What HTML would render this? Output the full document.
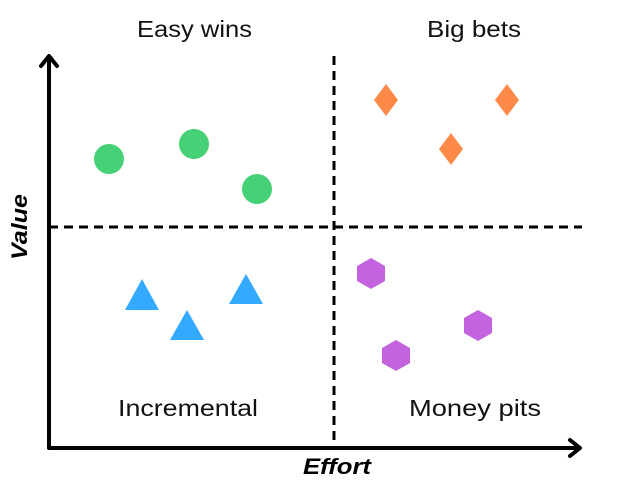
<!DOCTYPE html>
<html><head><style>html,body{margin:0;padding:0;background:#fff;}svg{display:block}</style></head>
<body>
<svg width="631" height="487" viewBox="0 0 631 487" xmlns="http://www.w3.org/2000/svg" font-family="Liberation Sans, sans-serif">
<g stroke="#000" stroke-width="3" stroke-dasharray="9,6" fill="none">
<line x1="334" y1="56" x2="334" y2="446"/>
<line x1="49" y1="227" x2="582" y2="227"/>
</g>
<g stroke="#000" stroke-width="4" fill="none" stroke-linecap="round" stroke-linejoin="round">
<polyline points="49,58 49,448 578,448"/>
<polyline points="41,66 49,56 57,66"/>
<polyline points="570,440 580,448 570,456"/>
</g>
<g fill="#46d176">
<circle cx="109" cy="159" r="15"/><circle cx="194" cy="144" r="15"/><circle cx="257" cy="189" r="15"/>
</g>
<g fill="#33aaff">
<polygon points="142,279 125,310 159,310"/>
<polygon points="187,310 170,340 204,340"/>
<polygon points="246,274 229,304 263,304"/>
</g>
<g fill="#ff8a47">
<polygon points="386,84 398,100 386,116 374,100"/>
<polygon points="507,84 519,100 507,116 495,100"/>
<polygon points="451,133 463,149 451,165 439,149"/>
</g>
<g fill="#c463e0">
<polygon points="371,258 385,266 385,281 371,289 357,281 357,266"/>
<polygon points="478,310 492,318 492,333 478,341 464,333 464,318"/>
<polygon points="396,340 410,348 410,363 396,371 382,363 382,348"/>
</g>
<g font-size="23" fill="#111">
<text x="137" y="37" textLength="115" lengthAdjust="spacingAndGlyphs">Easy wins</text>
<text x="427" y="37" textLength="94" lengthAdjust="spacingAndGlyphs">Big bets</text>
<text x="118" y="416" textLength="140" lengthAdjust="spacingAndGlyphs">Incremental</text>
<text x="409" y="416" textLength="132" lengthAdjust="spacingAndGlyphs">Money pits</text>
</g>
<text x="303" y="474" font-size="22" font-weight="bold" font-style="italic" textLength="68" lengthAdjust="spacingAndGlyphs">Effort</text>
<text transform="translate(27,260) rotate(-90)" font-size="22" font-weight="bold" font-style="italic" textLength="66" lengthAdjust="spacingAndGlyphs">Value</text>
</svg>
</body></html>
